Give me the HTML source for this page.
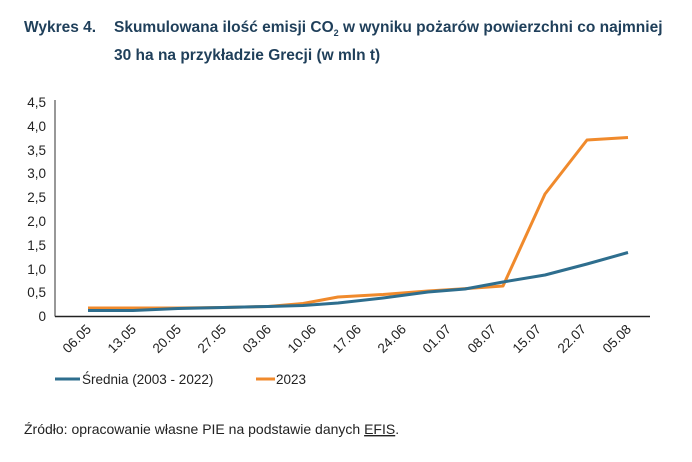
<!DOCTYPE html>
<html><head><meta charset="utf-8"><style>
html,body{margin:0;padding:0;background:#fff;width:692px;height:462px;overflow:hidden}
svg{display:block}
</style></head><body>
<svg width="692" height="462" xmlns="http://www.w3.org/2000/svg" font-family="Liberation Sans, sans-serif">
<g fill="#1f3f5a" font-weight="bold" font-size="15.5">
<text x="24" y="32">Wykres 4.</text>
<text x="114" y="32">Skumulowana ilość emisji CO<tspan font-size="9" dy="4">2</tspan><tspan dy="-4"> w wyniku pożarów powierzchni co najmniej</tspan></text>
<text x="114" y="60">30 ha na przykładzie Grecji (w mln t)</text>
</g>
<g font-size="13.5" fill="#222" text-anchor="end">
<text x="46" y="321">0</text><text x="46" y="297">0,5</text><text x="46" y="274">1,0</text>
<text x="46" y="250">1,5</text><text x="46" y="226">2,0</text><text x="46" y="202">2,5</text>
<text x="46" y="178">3,0</text><text x="46" y="155">3,5</text><text x="46" y="131">4,0</text><text x="46" y="107">4,5</text>
</g>
<line x1="55" y1="100" x2="55" y2="316.5" stroke="#777" stroke-width="1.5"/>
<line x1="55" y1="316.5" x2="650" y2="316.5" stroke="#222" stroke-width="1.5"/>
<g font-size="13.5" fill="#222" text-anchor="end">
<text transform="translate(92,330) rotate(-45)">06.05</text>
<text transform="translate(137,330) rotate(-45)">13.05</text>
<text transform="translate(182,330) rotate(-45)">20.05</text>
<text transform="translate(227,330) rotate(-45)">27.05</text>
<text transform="translate(272,330) rotate(-45)">03.06</text>
<text transform="translate(317,330) rotate(-45)">10.06</text>
<text transform="translate(362,330) rotate(-45)">17.06</text>
<text transform="translate(407,330) rotate(-45)">24.06</text>
<text transform="translate(452,330) rotate(-45)">01.07</text>
<text transform="translate(497,330) rotate(-45)">08.07</text>
<text transform="translate(542,330) rotate(-45)">15.07</text>
<text transform="translate(587,330) rotate(-45)">22.07</text>
<text transform="translate(632,330) rotate(-45)">05.08</text>
</g>
<polyline fill="none" stroke="#f08a2c" stroke-width="3" stroke-linejoin="round" points="88,308 133,308 178,308 223,307.5 268,306.5 303,303.5 338,297 383,294.5 428,291 460,289 503,286 545,194 587,140 628,137.5"/>
<polyline fill="none" stroke="#2e6e8e" stroke-width="3" stroke-linejoin="round" points="88,310.5 133,310.5 178,308.5 223,307.5 268,306.5 303,305.5 338,303 383,298 428,292 465,289 503,282 545,275 587,264 628,252.5"/>
<line x1="55" y1="379" x2="80" y2="379" stroke="#2e6e8e" stroke-width="3"/>
<text x="82" y="384" font-size="13.5" fill="#222">Średnia (2003 - 2022)</text>
<line x1="256" y1="379" x2="275" y2="379" stroke="#f08a2c" stroke-width="3"/>
<text x="276" y="384" font-size="13.5" fill="#222">2023</text>
<text x="24" y="434" font-size="14" fill="#222">Źródło: opracowanie własne PIE na podstawie danych <tspan text-decoration="underline">EFIS</tspan>.</text>
</svg>
</body></html>
